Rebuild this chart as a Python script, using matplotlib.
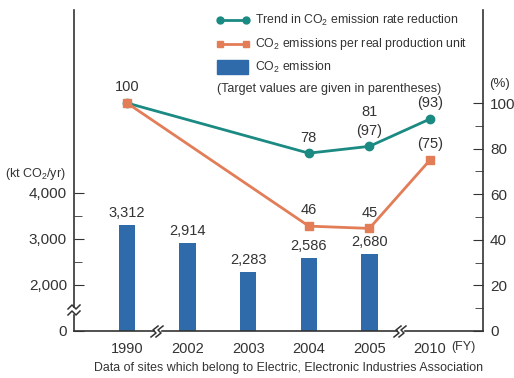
import matplotlib
matplotlib.use('Agg')
import matplotlib.pyplot as plt
from matplotlib.lines import Line2D
from matplotlib.patches import Rectangle

plt.rcParams['font.family'] = ['Liberation Sans', 'DejaVu Sans']
plt.rcParams['mathtext.fontset'] = 'custom'
plt.rcParams['mathtext.rm'] = 'Liberation Sans'
plt.rcParams['mathtext.it'] = 'Liberation Sans'

years = ['1990', '2002', '2003', '2004', '2005', '2010']
emission = [3312, 2914, 2283, 2586, 2680]          # kt CO2/yr, 1990..2005
rate_idx = [0, 3, 4, 5]                              # 1990, 2004, 2005, 2010
rate_reduction = [100, 78, 81, 93]
unit_idx = [0, 3, 4, 5]
per_unit = [100, 46, 45, 75]
rate_labels = ['100', '78', '81\n(97)', '(93)']
unit_labels = ['', '46', '45', '(75)']

TEAL = '#1b8a82'
ORANGE = '#e27d58'
BLUE = '#2f6aab'
INK = '#333333'

W, H = 514, 378
fig = plt.figure(figsize=(W / 100, H / 100), dpi=100)


def px(x, y):
    return x / W, 1 - y / H


ax = fig.add_axes([74 / W, 47 / H, (483 - 74) / W, (331 - 10) / H])
ax2 = ax.twinx()

x = list(range(len(years)))
ax.bar(x[:len(emission)], emission, width=0.27, color=BLUE, zorder=2)
for i, v in enumerate(emission):
    ax.text(i, v + 110, f'{v:,}', ha='center', va='bottom', fontsize=10.5, color=INK)

ax.set_xlim(-0.875, 5.875)
ax.set_ylim(1000, 7978)
ax.set_yticks([1000, 2000, 3000, 4000])
ax.set_yticklabels(['0', '2,000', '3,000', '4,000'])
ax.set_yticks([2500, 3500], minor=True)
ax.set_xticks(x)
ax.set_xticklabels(years)

ax2.plot(rate_idx, rate_reduction, color=TEAL, lw=2, marker='o', ms=6, zorder=3)
ax2.plot(unit_idx, per_unit, color=ORANGE, lw=2, marker='s', ms=6, zorder=4)
ax2.set_ylim(0, 140.8)
ax2.set_yticks([0, 20, 40, 60, 80, 100])
ax2.set_yticks([10, 30, 50, 70, 90], minor=True)

for i, v, t in zip(rate_idx, rate_reduction, rate_labels):
    ax2.text(i, v + 3.8, t, ha='center', va='bottom', fontsize=10.5, color=INK, linespacing=1.4)
for i, v, t in zip(unit_idx, per_unit, unit_labels):
    ax2.text(i, v + 3.8, t, ha='center', va='bottom', fontsize=10.5, color=INK)

for a in (ax, ax2):
    for s in a.spines.values():
        s.set_color(INK)
        s.set_linewidth(1.2)
    a.spines['top'].set_visible(False)
ax.spines['right'].set_visible(False)
ax2.spines['left'].set_visible(False)
ax2.spines['bottom'].set_visible(False)

ax.tick_params(axis='y', which='both', direction='in', labelsize=11, colors=INK, pad=5)
ax.tick_params(axis='y', which='major', length=7)
ax.tick_params(axis='y', which='minor', length=6)
ax.tick_params(axis='x', length=0, labelsize=10.5, colors=INK, pad=8)
ax2.tick_params(axis='y', which='both', direction='in', labelsize=11, colors=INK, pad=5)
ax2.tick_params(axis='y', which='major', length=7)
ax2.tick_params(axis='y', which='minor', length=6)


# axis break marks
def xbreak(xp, yp):
    fig.patches.append(Rectangle(px(xp - 2, yp + 2), 5 / W, 4 / H, transform=fig.transFigure,
                                 color='white', zorder=10))
    for dx in (-2, 3):
        xs = [xp + dx - 4, xp + dx + 1, xp + dx - 2, xp + dx + 3]
        ys = [yp + 6, yp + 2, yp - 1, yp - 5]
        fig.add_artist(Line2D([px(a, b)[0] for a, b in zip(xs, ys)],
                              [px(a, b)[1] for a, b in zip(xs, ys)],
                              color=INK, lw=1.1, transform=fig.transFigure, zorder=11))


def ybreak(xp, yp):
    fig.patches.append(Rectangle(px(xp - 2, yp + 3), 4 / W, 5 / H, transform=fig.transFigure,
                                 color='white', zorder=10))
    for dy in (-3, 3):
        xs = [xp - 6, xp - 2, xp + 2, xp + 6]
        ys = [yp + dy + 2, yp + dy - 2, yp + dy + 2, yp + dy - 2]
        fig.add_artist(Line2D([px(a, b)[0] for a, b in zip(xs, ys)],
                              [px(a, b)[1] for a, b in zip(xs, ys)],
                              color=INK, lw=1.1, transform=fig.transFigure, zorder=11))


xbreak(157, 331)
xbreak(400, 331)
ybreak(74, 310)

# axis captions
fig.text(*px(66, 174), '(kt CO$_2$/yr)', ha='right', va='center', fontsize=9, color=INK)
fig.text(*px(489, 84), '(%)', ha='left', va='center', fontsize=9.5, color=INK)
fig.text(*px(451, 347), '(FY)', ha='left', va='center', fontsize=9, color=INK)
fig.text(*px(288, 368), 'Data of sites which belong to Electric, Electronic Industries Association',
         ha='center', va='center', fontsize=8.9, color=INK)

# legend
fig.add_artist(Line2D([px(220, 20)[0], px(246, 20)[0]], [px(220, 20)[1]] * 2, color=TEAL, lw=2,
                      marker='o', ms=5, transform=fig.transFigure))
fig.add_artist(Line2D([px(220, 44)[0], px(246, 44)[0]], [px(220, 44)[1]] * 2, color=ORANGE, lw=2,
                      marker='s', ms=5, transform=fig.transFigure))
fig.patches.append(Rectangle(px(217, 74), 31 / W, 14 / H, transform=fig.transFigure, color=BLUE))
fig.text(*px(255, 20), 'Trend in CO$_2$ emission rate reduction', va='center', fontsize=8.8, color=INK)
fig.text(*px(255, 44), 'CO$_2$ emissions per real production unit', va='center', fontsize=8.8, color=INK)
fig.text(*px(255, 67), 'CO$_2$ emission', va='center', fontsize=8.8, color=INK)
fig.text(*px(217, 89), '(Target values are given in parentheses)', va='center', fontsize=9, color=INK)

fig.savefig('out.png', dpi=100)
